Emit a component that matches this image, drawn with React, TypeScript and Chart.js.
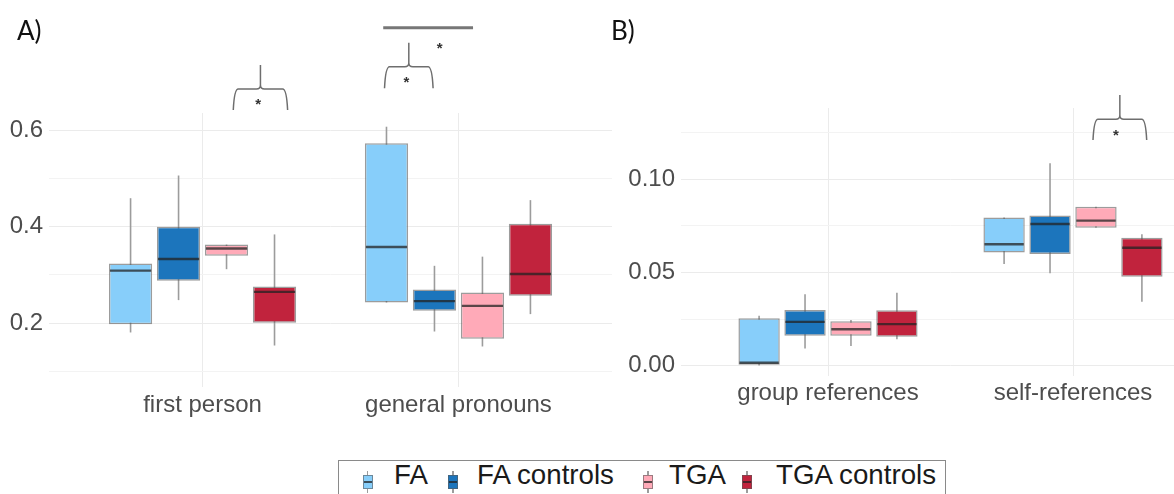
import React, { useEffect, useRef } from 'react';
import { Chart, registerables } from 'chart.js';

Chart.register(...registerables);

// ---------- data ----------
const GROUPS = ['FA', 'FA controls', 'TGA', 'TGA controls'];
const COLORS = ['#87cefa', '#1c75bc', '#ffaab8', '#c1233d'];

const CATEGORIES_A = ['first person', 'general pronouns'];
const CATEGORIES_B = ['group references', 'self-references'];

// each entry: [min, q1, median, q3, max]
const A_FA = [[0.181, 0.198, 0.309, 0.324, 0.459], [0.243, 0.243, 0.358, 0.573, 0.607]];
const A_FA_CTRL = [[0.248, 0.288, 0.333, 0.4, 0.506], [0.183, 0.226, 0.246, 0.27, 0.319]];
const A_TGA = [[0.312, 0.34, 0.355, 0.363, 0.363], [0.152, 0.168, 0.236, 0.264, 0.338]];
const A_TGA_CTRL = [[0.154, 0.201, 0.265, 0.276, 0.384], [0.219, 0.257, 0.302, 0.406, 0.455]];

const B_FA = [[0.0, 0.0005, 0.0015, 0.0254, 0.0268], [0.0546, 0.0607, 0.0652, 0.0795, 0.0795]];
const B_FA_CTRL = [[0.0092, 0.016, 0.0235, 0.0298, 0.0383], [0.0496, 0.06, 0.0761, 0.0806, 0.1087]];
const B_TGA = [[0.0105, 0.016, 0.0195, 0.0238, 0.0245], [0.0741, 0.0741, 0.0779, 0.0854, 0.0854]];
const B_TGA_CTRL = [[0.0141, 0.0155, 0.0223, 0.0297, 0.0391], [0.0343, 0.0477, 0.0633, 0.0687, 0.0705]];

const A_TICKS = [0.2, 0.4, 0.6];
const A_MINOR = [0.1, 0.3, 0.5];
const B_TICKS = [0.0, 0.05, 0.1];
const B_MINOR = [0.025, 0.075, 0.125];

// significance annotations (data units): brackets [x1, x2, yBar, yLeg, yPeak], stars [x, y], lines [x1, x2, y]
const A_BRACKETS = [[1.124, 1.3285, 0.685, 0.6416, 0.7348], [1.715, 1.897, 0.7313, 0.6866, 0.781]];
const A_STARS = [[1.217, 0.659], [1.797, 0.7037], [1.927, 0.7748]];
const A_LINES = [[1.706, 2.057, 0.812]];
const B_BRACKETS = [[2.0857, 2.2967, 0.1324, 0.1212, 0.1454]];
const B_STARS = [[2.1755, 0.1252]];
const B_LINES: number[][] = [];

const FONT = "'Liberation Sans', Arial, sans-serif";
const GRID = '#ebebeb';
const OUTLINE = 'rgba(90,90,90,0.6)';
const WHISKER = '#9c9c9c';
const MEDIAN = 'rgba(35,35,35,0.75)';

const boxPlugin = {
  id: 'boxParts',
  beforeDatasetsDraw(chart: any) {
    const ctx = chart.ctx;
    const ys = chart.scales.y;
    chart.data.datasets.forEach((ds: any, i: number) => {
      const meta = chart.getDatasetMeta(i);
      meta.data.forEach((bar: any, j: number) => {
        const s = ds.stats[j];
        ctx.save();
        ctx.strokeStyle = WHISKER;
        ctx.lineWidth = 1.6;
        ctx.beginPath();
        ctx.moveTo(bar.x, ys.getPixelForValue(s[0]));
        ctx.lineTo(bar.x, ys.getPixelForValue(s[4]));
        ctx.stroke();
        ctx.restore();
      });
    });
  },
  afterDatasetsDraw(chart: any) {
    const ctx = chart.ctx;
    const ys = chart.scales.y;
    chart.data.datasets.forEach((ds: any, i: number) => {
      const meta = chart.getDatasetMeta(i);
      meta.data.forEach((bar: any, j: number) => {
        const s = ds.stats[j];
        const y = ys.getPixelForValue(s[2]);
        ctx.save();
        ctx.strokeStyle = MEDIAN;
        ctx.lineWidth = 2.4;
        ctx.beginPath();
        ctx.moveTo(bar.x - bar.width / 2 + 1, y);
        ctx.lineTo(bar.x + bar.width / 2 - 1, y);
        ctx.stroke();
        ctx.restore();
      });
    });
  },
};

const sigPlugin = {
  id: 'sig',
  afterDraw(chart: any) {
    const o = chart.options.plugins.sig;
    if (!o) return;
    const ctx = chart.ctx;
    const xs = chart.scales.x;
    const ys = chart.scales.y;
    ctx.save();
    ctx.strokeStyle = '#6e6e6e';
    ctx.lineWidth = 1.5;
    o.brackets.forEach((b: number[]) => {
      const x1 = xs.getPixelForValue(b[0]);
      const x2 = xs.getPixelForValue(b[1]);
      const xm = (x1 + x2) / 2;
      const yb = ys.getPixelForValue(b[2]);
      const yl = ys.getPixelForValue(b[3]);
      const yp = ys.getPixelForValue(b[4]);
      const r = 4;
      ctx.beginPath();
      ctx.moveTo(x1 - 1, yl);
      ctx.quadraticCurveTo(x1, yb, x1 + r, yb);
      ctx.lineTo(xm - r, yb);
      ctx.quadraticCurveTo(xm, yb, xm, yb - r);
      ctx.lineTo(xm, yp);
      ctx.moveTo(xm, yb - r);
      ctx.quadraticCurveTo(xm, yb, xm + r, yb);
      ctx.lineTo(x2 - r, yb);
      ctx.quadraticCurveTo(x2, yb, x2 + 1, yl);
      ctx.stroke();
    });
    ctx.strokeStyle = '#777777';
    ctx.lineWidth = 3;
    o.lines.forEach((l: number[]) => {
      const y = ys.getPixelForValue(l[2]);
      ctx.beginPath();
      ctx.moveTo(xs.getPixelForValue(l[0]), y);
      ctx.lineTo(xs.getPixelForValue(l[1]), y);
      ctx.stroke();
    });
    ctx.fillStyle = '#333333';
    ctx.font = `bold 15px ${FONT}`;
    ctx.textAlign = 'center';
    ctx.textBaseline = 'middle';
    o.stars.forEach((s: number[]) => {
      ctx.fillText('*', xs.getPixelForValue(s[0]), ys.getPixelForValue(s[1]) + 3);
    });
    ctx.restore();
  },
};

type PanelProps = {
  cats: string[];
  series: number[][][];
  majors: number[];
  minors: number[];
  decimals: number;
  yMin: number;
  yMax: number;
  left: number;
  width: number;
  height: number;
  padTop: number;
  padRight: number;
  yAxisW: number;
  xAxisH: number;
  xPad: number;
  sig: any;
};

function Panel(p: PanelProps) {
  const ref = useRef<HTMLCanvasElement>(null);
  useEffect(() => {
    const all = [...p.majors, ...p.minors].sort((a, b) => a - b);
    const chart = new Chart(ref.current as HTMLCanvasElement, {
      type: 'bar',
      data: {
        datasets: p.series.map((s, i) => ({
          label: GROUPS[i],
          data: s.map((st, j) => ({ x: j + 1, y: [st[1], st[3]] })),
          stats: s,
          backgroundColor: COLORS[i],
          borderColor: OUTLINE,
          borderWidth: 1.5,
          borderSkipped: false,
          categoryPercentage: 0.75,
          barPercentage: 0.9,
        })) as any,
      },
      options: {
        responsive: false,
        maintainAspectRatio: false,
        animation: false,
        events: [],
        layout: { padding: { top: p.padTop, right: p.padRight, left: 0, bottom: 0 } },
        plugins: {
          legend: { display: false },
          tooltip: { enabled: false },
          sig: p.sig,
        } as any,
        scales: {
          x: {
            type: 'linear',
            min: 0.4,
            max: 2.6,
            offset: false,
            afterBuildTicks: (s: any) => {
              s.ticks = p.cats.map((_, i) => ({ value: i + 1 }));
            },
            afterFit: (s: any) => {
              s.height = p.xAxisH;
            },
            ticks: {
              autoSkip: false,
              maxRotation: 0,
              padding: p.xPad,
              color: '#4d4d4d',
              font: { family: FONT, size: 24 },
              callback: (v: any) => p.cats[Math.round(v) - 1] ?? '',
            },
            grid: { color: GRID, lineWidth: 1, drawTicks: false, offset: false },
            border: { display: false },
          },
          y: {
            type: 'linear',
            min: p.yMin,
            max: p.yMax,
            afterBuildTicks: (s: any) => {
              s.ticks = all.map((v) => ({ value: v }));
            },
            afterFit: (s: any) => {
              s.width = p.yAxisW;
            },
            ticks: {
              autoSkip: false,
              padding: 6,
              color: '#4d4d4d',
              font: { family: FONT, size: 24 },
              callback: (v: any) =>
                p.majors.some((m) => Math.abs(m - v) < 1e-9) ? Number(v).toFixed(p.decimals) : '',
            },
            grid: {
              drawTicks: false,
              lineWidth: 1,
              color: (c: any) =>
                c.tick && p.majors.some((m) => Math.abs(m - c.tick.value) < 1e-9) ? GRID : '#f3f3f3',
            },
            border: { display: false },
          },
        },
      },
      plugins: [boxPlugin, sigPlugin],
    } as any);
    return () => chart.destroy();
  }, []);
  return (
    <canvas
      ref={ref}
      width={p.width}
      height={p.height}
      style={{ position: 'absolute', left: p.left, top: 0, width: p.width, height: p.height }}
    />
  );
}

function LegendIcon({ color, x }: { color: string; x: number }) {
  return (
    <div style={{ position: 'absolute', left: x - 5, top: 471, width: 10, height: 22 }}>
      <div style={{ position: 'absolute', left: 4.2, top: 0, width: 1.6, height: 22, background: WHISKER }} />
      <div
        style={{
          position: 'absolute',
          left: 0,
          top: 4,
          width: 10,
          height: 14,
          boxSizing: 'border-box',
          background: color,
          border: `1.2px solid ${OUTLINE}`,
        }}
      />
      <div style={{ position: 'absolute', left: 1, top: 10, width: 8, height: 2, background: MEDIAN }} />
    </div>
  );
}

const LEGEND_ICON_X = [367.5, 453, 648, 747];
const LEGEND_TEXT_X = [394, 477, 669, 776];

export default function App() {
  return (
    <div
      style={{
        position: 'absolute',
        left: 0,
        top: 0,
        width: 1174,
        height: 494,
        overflow: 'hidden',
        background: '#ffffff',
      }}
    >
      <Panel
        cats={CATEGORIES_A}
        series={[A_FA, A_FA_CTRL, A_TGA, A_TGA_CTRL]}
        majors={A_TICKS}
        minors={A_MINOR}
        decimals={1}
        yMin={0.0681}
        yMax={0.6354}
        left={0}
        width={640}
        height={440}
        padTop={113}
        padRight={28}
        yAxisW={49}
        xAxisH={53}
        xPad={4}
        sig={{ brackets: A_BRACKETS, stars: A_STARS, lines: A_LINES }}
      />
      <Panel
        cats={CATEGORIES_B}
        series={[B_FA, B_FA_CTRL, B_TGA, B_TGA_CTRL]}
        majors={B_TICKS}
        minors={B_MINOR}
        decimals={2}
        yMin={-0.0056}
        yMax={0.1384}
        left={612}
        width={628}
        height={440}
        padTop={108}
        padRight={20}
        yAxisW={69}
        xAxisH={64}
        xPad={3}
        sig={{ brackets: B_BRACKETS, stars: B_STARS, lines: B_LINES }}
      />
      <div style={{ position: 'absolute', left: 17, top: 17, font: "26px Lato, 'Open Sans', sans-serif", lineHeight: '26px', color: '#111' }}>
        A)
      </div>
      <div style={{ position: 'absolute', left: 611, top: 17, font: "26px Lato, 'Open Sans', sans-serif", lineHeight: '26px', color: '#111' }}>
        B)
      </div>
      <div
        style={{
          position: 'absolute',
          left: 338,
          top: 460,
          width: 608,
          height: 60,
          boxSizing: 'border-box',
          border: '1.5px solid #8a8a8a',
        }}
      />
      {GROUPS.map((g, i) => (
        <React.Fragment key={g}>
          <LegendIcon color={COLORS[i]} x={LEGEND_ICON_X[i]} />
          <div
            style={{
              position: 'absolute',
              left: LEGEND_TEXT_X[i],
              top: 460,
              fontFamily: FONT,
              fontSize: 27.7,
              lineHeight: '30px',
              color: '#1a1a1a',
              whiteSpace: 'nowrap',
            }}
          >
            {g}
          </div>
        </React.Fragment>
      ))}
    </div>
  );
}
